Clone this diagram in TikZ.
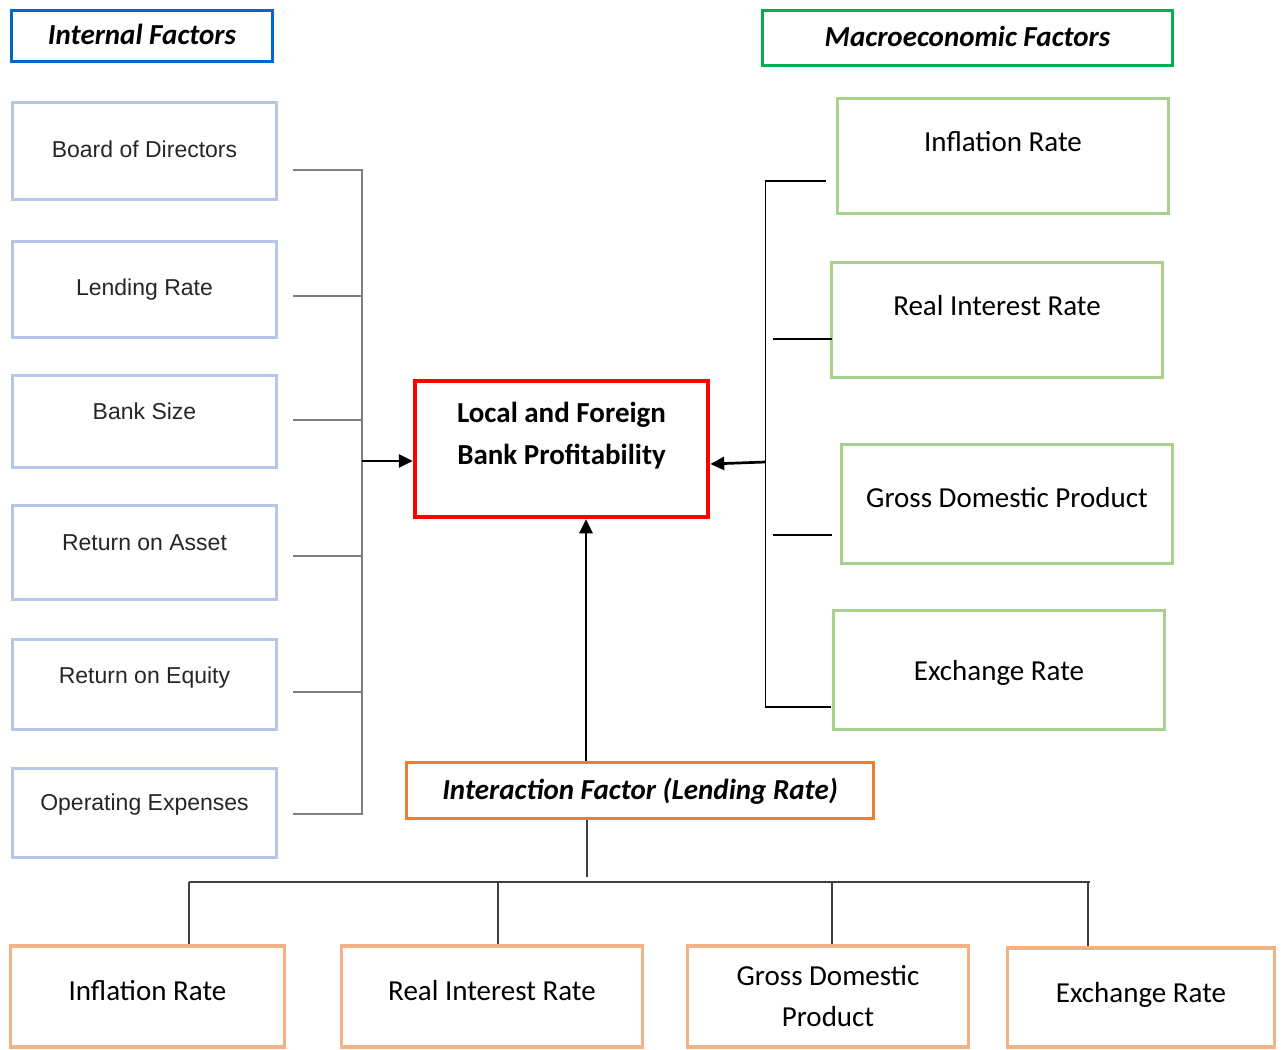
\documentclass[tikz,border=0pt]{standalone}
\usepackage{fontspec}
\setmainfont{Carlito}
\newfontfamily\arialfont{Liberation Sans}
\usetikzlibrary{arrows.meta}

\definecolor{intblue}{HTML}{0066CC}
\definecolor{boxblue}{HTML}{B4C7E7}
\definecolor{macgreen}{HTML}{00B050}
\definecolor{boxgreen}{HTML}{A9D18E}
\definecolor{intorange}{HTML}{ED7D31}
\definecolor{boxorange}{HTML}{F4B183}
\definecolor{busgray}{HTML}{7F7F7F}

\tikzset{
  facbox/.style={draw, rectangle, inner sep=0pt, align=center},
  heading/.style={facbox, draw=#1, line width=3.5pt, text=black,
    font=\fontsize{29pt}{41pt}\selectfont\bfseries\itshape,
    text height=21pt, text depth=3pt},
  intbox/.style={facbox, draw=boxblue, line width=3pt, text=black!85,
    font=\arialfont\fontsize{23pt}{28pt}\selectfont,
    text height=17pt, minimum width=264pt},
  macbox/.style={facbox, draw=boxgreen, line width=3pt, text=black,
    font=\fontsize{29pt}{41pt}\selectfont,
    text height=21pt, minimum width=331pt, minimum height=115pt},
  modbox/.style={facbox, draw=boxorange, line width=3.5pt, text=black,
    font=\fontsize{29pt}{41pt}\selectfont,
    text height=21pt, minimum height=101pt},
  bus/.style={busgray, line width=2pt},
  link/.style={black, line width=1.3pt},
  tree/.style={black!75, line width=1.3pt},
  arr/.style={black, line width=2.7pt, -{Triangle[length=14pt,width=13pt]}}
}

\begin{document}
\begin{tikzpicture}[x=1pt, y=-1pt]
    \useasboundingbox (0,0) rectangle (1284,1049);

    % headings
    \node[heading=intblue, minimum width=261pt, minimum height=51pt] (intttl) at (142,36) {Internal Factors};
    \node[heading=macgreen, minimum width=410pt, minimum height=55pt] (macttl) at (967.5,38) {Macroeconomic Factors};

    % internal factors
    \node[intbox, minimum height=97pt, text depth=4pt] (bod) at (144.5,151) {Board of Directors};
    \node[intbox, minimum height=96pt, text depth=5pt] (lend) at (144.5,289.5) {Lending Rate};
    \node[intbox, minimum height=92pt, text depth=21pt] (size) at (144.5,421.5) {Bank Size};
    \node[intbox, minimum height=94pt, text depth=21pt] (roa) at (144.5,552.5) {Return on Asset};
    \node[intbox, minimum height=90pt, text depth=19pt] (roe) at (144.5,684.5) {Return on Equity};
    \node[intbox, minimum height=89pt, text depth=22pt] (opex) at (144.5,813) {Operating Expenses};

    % dependent variable
    \node[facbox, draw=red, line width=4.5pt, text=black, minimum width=293pt, minimum height=136pt,
      font=\fontsize{29pt}{42pt}\selectfont\bfseries, text depth=31pt] (prof) at (561.5,449)
      {Local and Foreign\\Bank Profitability};

    % macroeconomic factors
    \node[macbox, text depth=31pt] (minf) at (1003,156) {Inflation Rate};
    \node[macbox, text depth=31pt] (mrir) at (997,320) {Real Interest Rate};
    \node[macbox, minimum height=119pt, text depth=15pt] (mgdp) at (1007,504) {Gross Domestic Product};
    \node[macbox, minimum height=119pt, text depth=0pt] (mexch) at (999,670) {Exchange Rate};

    % interaction term
    \node[heading=intorange, minimum width=467pt, minimum height=56pt] (inter) at (640,790.5) {Interaction Factor (Lending Rate)};
    \node[modbox, minimum width=274pt, text depth=13pt] (binf) at (147.5,996.5) {Inflation Rate};
    \node[modbox, minimum width=301pt, text depth=13pt] (brir) at (492,996.5) {Real Interest Rate};
    \node[modbox, minimum width=281pt, text height=, text depth=] (bgdp) at (828,996.5) {Gross Domestic\\Product};
    \node[modbox, minimum width=267pt, minimum height=99pt, text depth=12pt] (bexch) at (1141,997.5) {Exchange Rate};

    % left bus
    \draw[bus] ([shift={(15,19)}]bod.east) -| ([shift={(84,1)}]opex.east) -- ([shift={(15,1)}]opex.east);
    \foreach \n/\dy in {lend/6.5, size/-1.5, roa/3.5, roe/7.5}
      \draw[bus] ([shift={(15,\dy)}]\n.east) -- ++(69,0);
    \coordinate (ljoin) at (362,461);
    \draw[arr] (ljoin) -- (ljoin -| prof.west);

    % right bus
    \draw[link] ([shift={(-10,25)}]minf.west) -| ([shift={(-66.5,37)}]mexch.west) -- ([shift={(-1,37)}]mexch.west);
    \draw[link] ([shift={(-57,19)}]mrir.west) -- ++(59,0);
    \draw[link] ([shift={(-67,31)}]mgdp.west) -- ++(59,0);
    \coordinate (rjoin) at (765.5,462);
    \draw[arr] (rjoin) -- ([shift={(0,15)}]prof.east);

    % interaction
    \coordinate (upfoot) at ([xshift=-54pt]inter.north);
    \draw[arr] (upfoot) -- (upfoot |- prof.south);
    \draw[tree] ([xshift=-53pt]inter.south) -- ++(0,57);
    \coordinate (tl) at (189,882);
    \coordinate (tr) at (1090,882);
    \draw[tree] (tl) -- (tr);
    \foreach \n/\dx in {binf/41.5, brir/6, bgdp/4, bexch/-53}
      \draw[tree] ([xshift=\dx pt]\n.north) -- ([xshift=\dx pt]\n.north |- tl);
\end{tikzpicture}
\end{document}
